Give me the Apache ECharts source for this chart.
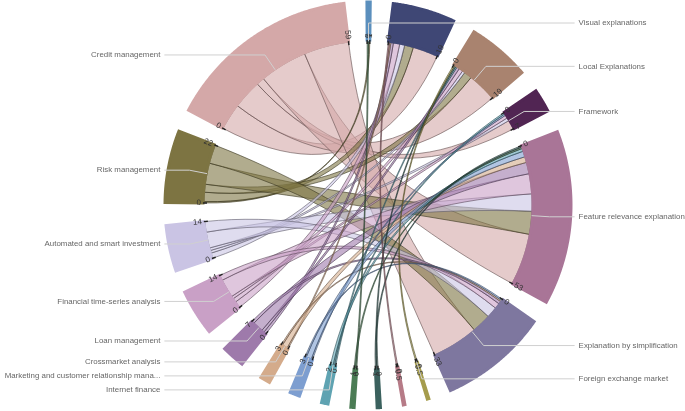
<!DOCTYPE html>
<html><head><meta charset="utf-8">
<script src="https://cdn.jsdelivr.net/npm/echarts@6/dist/echarts.min.js"></script>
<style>html,body{margin:0;padding:0;background:#fff}#c{width:685px;height:411px}</style>
</head><body><div id="c"></div>
<script>
// ---- data ----
const nodeNames = [
  'Visual explanations', 'Explanation by example', 'Local Explanations', 'Framework',
  'Feature relevance explanation', 'Explanation by simplification', 'Foreign exchange market',
  'Stock market', 'Fraud detection', 'Cryptocurrency', 'Internet finance',
  'Marketing and customer relationship management', 'Crossmarket analysis', 'Loan management',
  'Financial time-series analysis', 'Automated and smart investment', 'Risk management', 'Credit management'
];
const nodeTotals = [1, 19, 19, 7, 53, 33, 0.5, 0.5, 1, 1, 2, 3, 3, 7, 14, 14, 22, 59];
const hiddenLabels = ['Explanation by example', 'Stock market', 'Fraud detection', 'Cryptocurrency'];

const linkSources = [
  'Credit management','Credit management','Credit management','Credit management','Credit management',
  'Risk management','Risk management','Risk management','Risk management','Risk management',
  'Automated and smart investment','Automated and smart investment','Automated and smart investment','Automated and smart investment','Automated and smart investment',
  'Financial time-series analysis','Financial time-series analysis','Financial time-series analysis','Financial time-series analysis','Financial time-series analysis',
  'Loan management','Loan management','Loan management','Loan management',
  'Crossmarket analysis','Crossmarket analysis','Crossmarket analysis',
  'Marketing and customer relationship management','Marketing and customer relationship management','Marketing and customer relationship management',
  'Internet finance','Internet finance','Internet finance',
  'Cryptocurrency','Cryptocurrency',
  'Fraud detection','Fraud detection',
  'Stock market',
  'Foreign exchange market'
];
const linkTargets = [
  'Explanation by example','Local Explanations','Framework','Feature relevance explanation','Explanation by simplification',
  'Visual explanations','Explanation by example','Local Explanations','Feature relevance explanation','Explanation by simplification',
  'Explanation by example','Local Explanations','Framework','Feature relevance explanation','Explanation by simplification',
  'Explanation by example','Local Explanations','Framework','Feature relevance explanation','Explanation by simplification',
  'Explanation by example','Local Explanations','Feature relevance explanation','Explanation by simplification',
  'Explanation by example','Feature relevance explanation','Explanation by simplification',
  'Framework','Feature relevance explanation','Explanation by simplification',
  'Local Explanations','Framework','Feature relevance explanation',
  'Visual explanations','Feature relevance explanation',
  'Local Explanations','Feature relevance explanation',
  'Explanation by example',
  'Local Explanations'
];
const linkValues = [
  10, 11, 3, 18, 17,
  0.5, 3.5, 3, 8, 7,
  2, 1, 1, 6, 4,
  2.5, 1.5, 1, 7, 2,
  1, 1, 4, 1,
  0.5, 2, 0.5,
  0.5, 2, 0.5,
  0.5, 0.5, 1,
  0.5, 0.5,
  0.5, 0.5,
  0.5,
  0.5
];

// ---- styles ----
const palette = ['#5b8fbd','#3f4775','#a9836f','#512553','#a97597','#7e779f','#a59c4c','#b67b87',
  '#3b615e','#4b7c55','#5fa3b2','#7d9ed0','#d4ab8b','#9e7aab','#c9a0c6','#cac4e4','#7d7442','#d4a8a8'];
const CENTER = [368, 205];
const R_IN = 164, R_OUT = 203;
const PAD = 6.93;       // gap between nodes (value units)
const START = 90.3;     // start angle (deg)
const FONT = 'Liberation Sans, Arial, sans-serif';

// ---- layout helpers (from data) ----
const n = nodeNames.length;
const idx = {}; nodeNames.forEach((nm, i) => idx[nm] = i);
const TOTAL = nodeTotals.reduce((a, b) => a + b, 0) + n * PAD;
const nodeStart = []; { let acc = 0; for (let i = 0; i < n; i++) { nodeStart.push(acc); acc += nodeTotals[i] + PAD; } }
const nodeLinks = nodeNames.map(() => []);
linkValues.forEach((v, k) => {
  const s = idx[linkSources[k]], t = idx[linkTargets[k]];
  nodeLinks[s].push({ k, other: t, v, src: true });
  nodeLinks[t].push({ k, other: s, v, src: false });
});
const linkEnds = linkValues.map(() => ({}));
nodeLinks.forEach((arr, i) => {
  arr.sort((a, b) => a.other - b.other);
  const sum = arr.reduce((a, e) => a + e.v, 0) || 1;
  const scale = nodeTotals[i] / sum;
  let a = nodeStart[i];
  arr.forEach(e => { const w = e.v * scale; linkEnds[e.k][e.src ? 's' : 't'] = [a, a + w]; a += w; });
});
function rgba(hex, a) { const v = parseInt(hex.slice(1), 16); return `rgba(${v >> 16},${(v >> 8) & 255},${v & 255},${a})`; }
function dark(hex, f, a) { const v = parseInt(hex.slice(1), 16); return `rgba(${Math.round((v >> 16) * f)},${Math.round(((v >> 8) & 255) * f)},${Math.round((v & 255) * f)},${a})`; }

function arcPts(api, r, a, b, out) {
  const st = Math.max(1, Math.ceil(Math.abs(b - a) / 0.3));
  for (let s = 0; s <= st; s++) out.push(api.coord([r, a + (b - a) * s / st]));
}

const pieData = [];
nodeNames.forEach((nm, i) => {
  const show = hiddenLabels.indexOf(nm) < 0;
  pieData.push({ name: nm, value: nodeTotals[i], label: { show }, labelLine: { show } });
  pieData.push({ name: 'gap' + i, value: PAD, label: { show: false }, labelLine: { show: false } });
});

const chart = echarts.init(document.getElementById('c'));
chart.setOption({
  backgroundColor: '#fff',
  animation: false,
  polar: { center: CENTER, radius: R_OUT },
  angleAxis: { type: 'value', min: 0, max: TOTAL, startAngle: START, clockwise: true, show: false },
  radiusAxis: { type: 'value', min: 0, max: R_OUT, show: false },
  series: [
    { // ribbons
      type: 'custom', coordinateSystem: 'polar', z: 1, silent: true,
      data: linkValues.map((v, k) => [k, 0]),
      renderItem(params, api) {
        const k = api.value(0), e = linkEnds[k];
        const c = api.coord([0, 0]);
        const P = a => api.coord([R_IN, a]);
        const pts = [];
        const bez = (p0, p2) => { for (let s = 1; s < 24; s++) { const t = s / 24, u = 1 - t; pts.push([u*u*p0[0] + 2*u*t*c[0] + t*t*p2[0], u*u*p0[1] + 2*u*t*c[1] + t*t*p2[1]]); } };
        arcPts(api, R_IN, e.s[0], e.s[1], pts);
        bez(P(e.s[1]), P(e.t[0]));
        arcPts(api, R_IN, e.t[0], e.t[1], pts);
        bez(P(e.t[1]), P(e.s[0]));
        const col = palette[idx[linkSources[k]]];
        return { type: 'polygon', shape: { points: pts }, style: { fill: rgba(col, 0.6), stroke: dark(col, 0.45, 0.75), lineWidth: 0.8 } };
      }
    },
    { // nodes
      type: 'custom', coordinateSystem: 'polar', z: 2, silent: true,
      data: nodeNames.map((nm, i) => [i, 0]),
      renderItem(params, api) {
        const i = api.value(0);
        const a0 = nodeStart[i], a1 = a0 + nodeTotals[i];
        const outer = [], inner = [];
        arcPts(api, R_OUT, a0, a1, outer);
        arcPts(api, R_IN + 1, a0, a1, inner);
        return { type: 'polygon', shape: { points: outer.concat(inner.reverse()) },
          style: { fill: palette[i], stroke: palette[i], lineWidth: 3, lineJoin: 'miter' } };
      }
    },
    { // ticks
      type: 'custom', coordinateSystem: 'polar', z: 3, silent: true,
      data: nodeNames.map((nm, i) => [i, 0]),
      renderItem(params, api) {
        const i = api.value(0);
        const c = api.coord([0, 0]);
        const children = [];
        [[nodeStart[i], '0'], [nodeStart[i] + nodeTotals[i], String(nodeTotals[i])]].forEach(([a, txt]) => {
          const p1 = api.coord([R_IN - 3, a]), p2 = api.coord([R_IN + 1, a]), pt = api.coord([R_IN + 3, a]);
          children.push({ type: 'line', shape: { x1: p1[0], y1: p1[1], x2: p2[0], y2: p2[1] }, style: { stroke: '#222', lineWidth: 1.4 } });
          const dx = pt[0] - c[0], dy = pt[1] - c[1];
          let rot = Math.atan2(-dy, dx), align = 'left';
          if (dx < 0) { rot += Math.PI; align = 'right'; }
          children.push({ type: 'text', x: pt[0], y: pt[1], rotation: rot,
            style: { text: txt, align, verticalAlign: 'middle', fontSize: 8, fontFamily: FONT, fill: '#333' } });
        });
        return { type: 'group', children };
      }
    },
    { // labels
      type: 'pie', center: CENTER, radius: [0, R_IN], startAngle: START, clockwise: true,
      silent: true, z: 10, avoidLabelOverlap: true,
      itemStyle: { color: 'rgba(0,0,0,0)', borderWidth: 0 },
      label: { color: '#666', fontSize: 7.9, lineHeight: 12, fontFamily: FONT, alignTo: 'labelLine', bleedMargin: 0, overflow: 'truncate', distanceToLabelLine: 4 },
      labelLine: { length: 18, length2: 25, lineStyle: { color: '#d0d0d0', width: 1 } },
      emphasis: { disabled: true },
      data: pieData
    }
  ]
});
</script>
</body></html>
